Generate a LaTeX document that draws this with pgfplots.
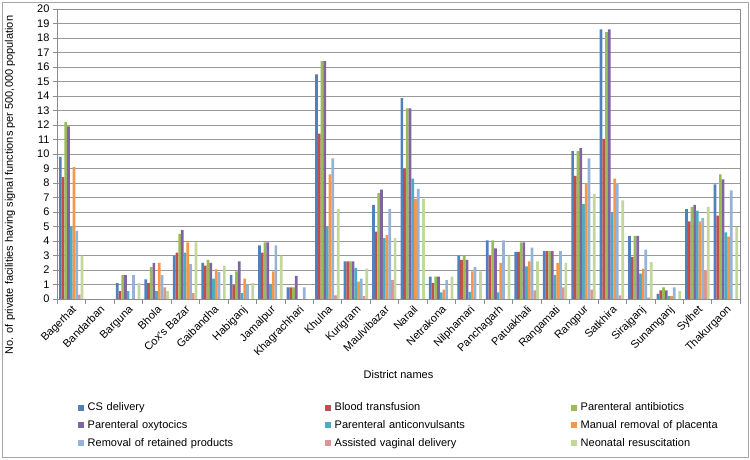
\documentclass[border=0pt]{standalone}
\usepackage{pgfplots}
\pgfplotsset{compat=1.18}
\usepackage{pgfplotstable}
\usepackage{fontspec}
\setmainfont{Liberation Sans}
\definecolor{c1}{HTML}{4F81BD}
\definecolor{c2}{HTML}{C0504D}
\definecolor{c3}{HTML}{9BBB59}
\definecolor{c4}{HTML}{8064A2}
\definecolor{c5}{HTML}{4BACC6}
\definecolor{c6}{HTML}{F79646}
\definecolor{c7}{HTML}{95B3D7}
\definecolor{c8}{HTML}{D99694}
\definecolor{c9}{HTML}{C3D69B}
\pgfplotstableread{
x CS BT PA PO PAC MRP RRP AVD NR
0 9.8 8.4 12.2 11.9 5.0 9.1 4.7 0.3 3.0
1 0 0 0 0 0 0 0 0 0
2 1.1 0.55 1.65 1.65 0.55 0 1.65 0 1.1
3 1.35 1.1 2.2 2.5 0.55 2.5 1.65 0.8 0.55
4 3.0 3.2 4.5 4.75 3.2 3.9 2.4 0.4 3.9
5 2.5 2.3 2.7 2.5 1.4 2.05 1.85 0 2.3
6 1.65 0.95 1.9 2.6 0.4 1.4 1.0 0 1.1
7 3.7 3.2 3.9 3.9 1.05 1.9 3.7 0 3.0
8 0.8 0.8 0.8 1.6 0 0 0.8 0 0
9 15.5 11.4 16.4 16.4 5.0 8.6 9.7 0.25 6.2
10 2.6 2.6 2.6 2.6 2.15 1.2 1.4 0.2 2.1
11 6.5 4.65 7.3 7.55 4.2 4.4 6.2 1.3 4.2
12 13.85 9.0 13.15 13.15 8.3 6.9 7.6 0 6.9
13 1.55 1.1 1.55 1.55 0.45 0.65 1.3 0 1.55
14 3.0 2.7 3.0 2.7 0.5 1.9 2.2 0 1.9
15 4.05 3.0 4.05 3.5 0.45 2.5 4.05 0 3.0
16 3.25 3.25 3.9 3.9 2.25 2.6 3.55 0.6 2.6
17 3.3 3.3 3.3 3.3 1.65 2.5 3.3 0.8 2.5
18 10.2 8.5 10.2 10.4 6.55 8.0 9.7 0.65 7.25
19 18.6 11.05 18.4 18.6 6.0 8.3 8.0 0.25 6.8
20 4.35 2.9 4.35 4.35 1.75 2.1 3.4 0.1 2.55
21 0.35 0.6 0.8 0.6 0.2 0.2 0.8 0 0.55
22 6.2 5.35 6.35 6.5 6.1 5.35 5.6 2.0 6.35
23 7.9 5.75 8.6 8.25 4.6 4.3 7.5 0 4.95
}\datatable
\begin{document}
\begin{tikzpicture}[font=\fontsize{11}{13}\selectfont]
\path[use as bounding box] (-57pt,-160pt) rectangle (693pt,299pt);
\draw[black!35] (-55pt,-158pt) rectangle (691pt,297pt);
\begin{axis}[
  at={(0pt,0pt)}, anchor=south west,
  scale only axis, width=683pt, height=290pt,
  ybar=0pt, bar width=0.0952,
  xmin=-0.5, xmax=23.5, ymin=0, ymax=20,
  xtick={0,...,23},
  xticklabels={Bagerhat,Bandarban,Barguna,Bhola,Cox's Bazar,Gaibandha,Habiganj,Jamalpur,Khagrachhari,Khulna,Kurigram,Maulvibazar,Narail,Netrakona,Nilphamari,Panchagarh,Patuakhali,Rangamati,Rangpur,Satkhira,Sirajganj,Sunamganj,Sylhet,Thakurgaon},
  xticklabel style={rotate=45, anchor=north east, inner sep=1pt, font=\fontsize{11}{13}\selectfont},
  major x tick style={draw=none},
  minor xtick={-0.5,0.5,...,23.5},
  minor x tick style={black!45},
  minor tick length=5pt,
  ytick={0,...,20},
  major tick length=4pt,
  tick align=outside,
  y tick style={black!45},
  yticklabel style={font=\fontsize{11}{13}\selectfont},
  /pgf/number format/assume math mode=true,
  ymajorgrids, grid style={black!40},
  axis line style={black!45},
  xtick pos=bottom, ytick pos=left,
  ylabel={No. of private facilities having signal functions per 500,000 population},
  ylabel style={at={(axis description cs:-0.0688,0.393)}, anchor=center},
  xlabel={District names},
  xlabel style={at={(axis description cs:0.5,-0.262)}, anchor=center},
  legend columns=3,
  legend cell align=left,
  legend image code/.code={\fill[#1] (0pt,-3pt) rectangle (6pt,3pt);},
  legend style={at={(axis description cs:0,0)}, anchor=north west, xshift=21pt, yshift=-101pt,
    draw=none, fill=none, inner sep=0pt, row sep=3pt,
    nodes={inner ysep=2.6pt, inner xsep=3.5pt},
    /tikz/column 2/.style={text width=234pt},
    /tikz/column 4/.style={text width=233pt},
    /tikz/column 6/.style={text width=150pt}},
]
\addplot[fill=c1, draw=none] table[x=x, y=CS] {\datatable};
\addplot[fill=c2, draw=none] table[x=x, y=BT] {\datatable};
\addplot[fill=c3, draw=none] table[x=x, y=PA] {\datatable};
\addplot[fill=c4, draw=none] table[x=x, y=PO] {\datatable};
\addplot[fill=c5, draw=none] table[x=x, y=PAC] {\datatable};
\addplot[fill=c6, draw=none] table[x=x, y=MRP] {\datatable};
\addplot[fill=c7, draw=none] table[x=x, y=RRP] {\datatable};
\addplot[fill=c8, draw=none] table[x=x, y=AVD] {\datatable};
\addplot[fill=c9, draw=none] table[x=x, y=NR] {\datatable};
\legend{CS delivery,Blood transfusion,Parenteral antibiotics,Parenteral oxytocics,Parenteral anticonvulsants,Manual removal of placenta,Removal of retained products,Assisted vaginal delivery,Neonatal resuscitation}
\end{axis}
\end{tikzpicture}
\end{document}
